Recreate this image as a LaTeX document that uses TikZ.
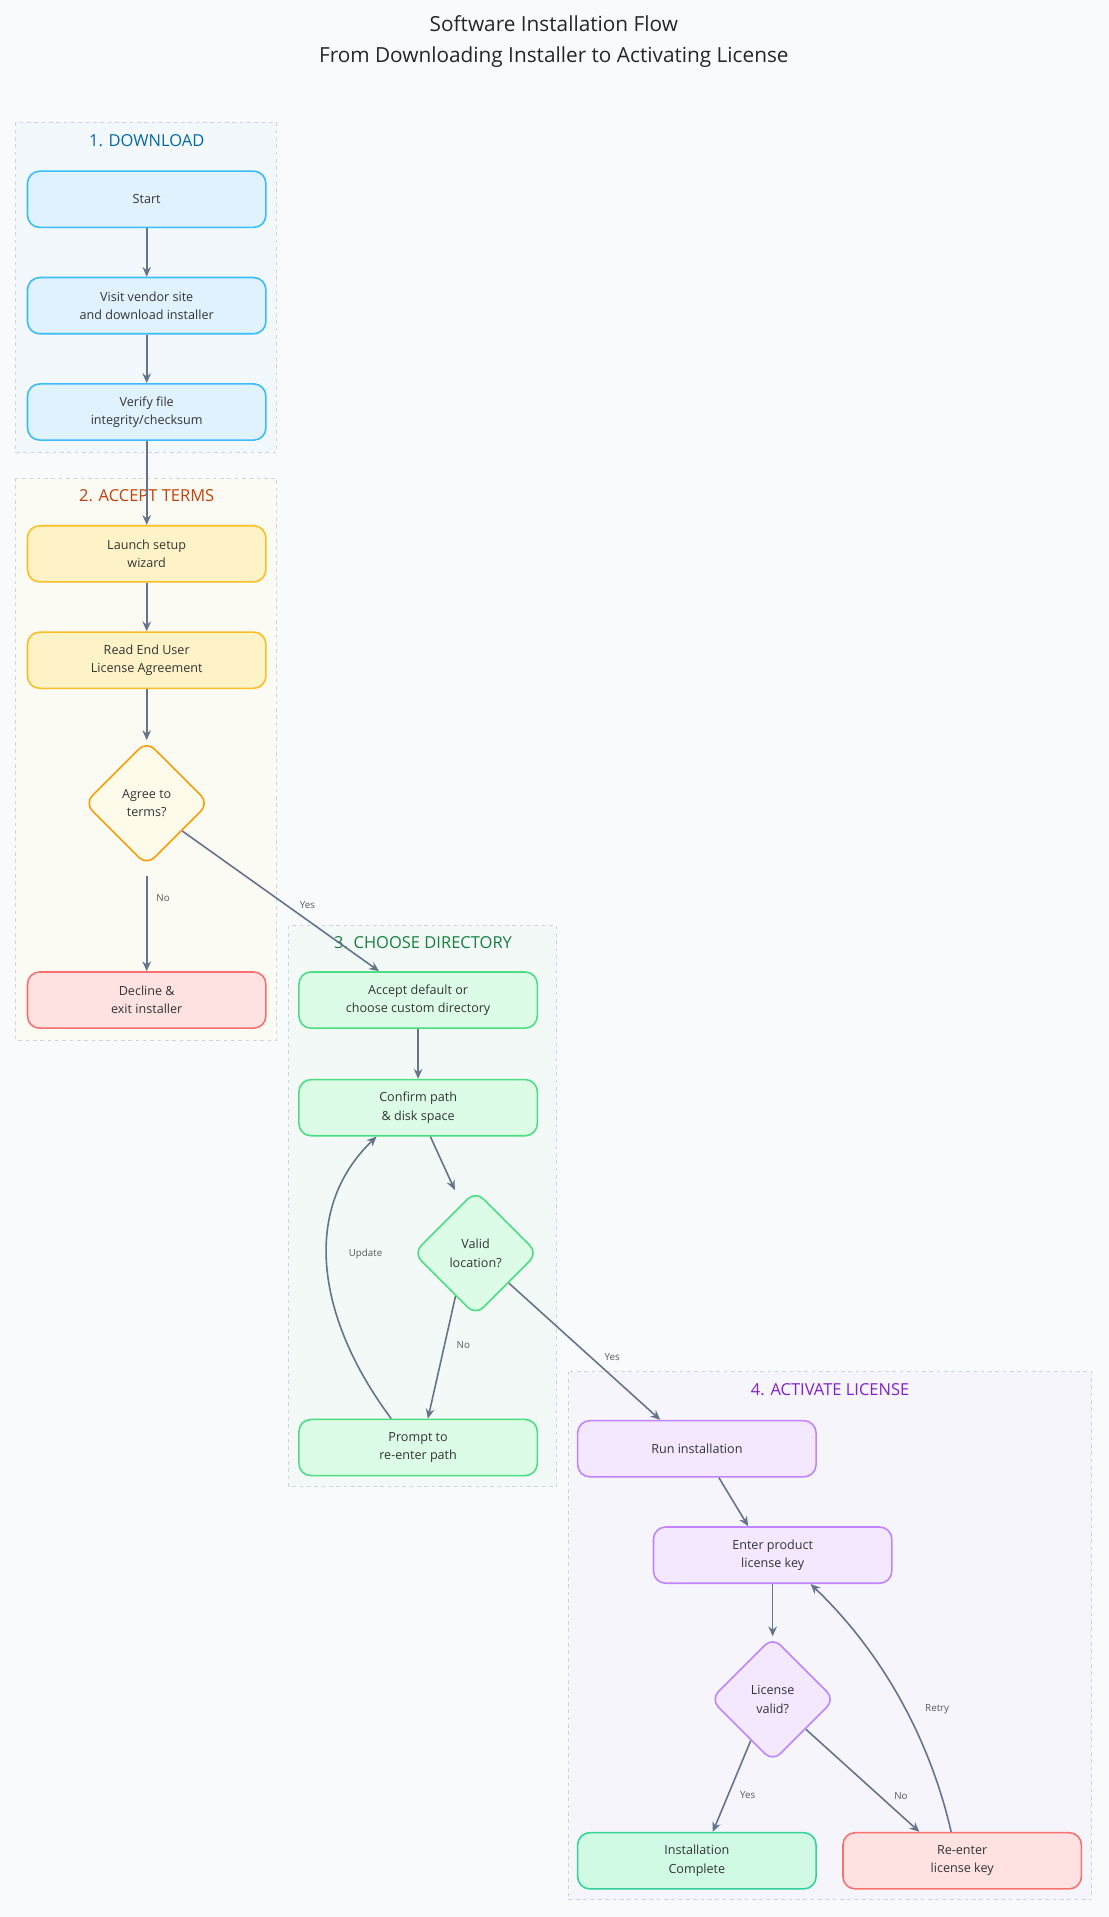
\documentclass[tikz,border=0pt]{standalone}
\usepackage{fontspec}
\setmainfont{Open Sans}
\usetikzlibrary{shapes.geometric,arrows.meta}
\definecolor{bg}{HTML}{F8FAFC}
\definecolor{edge}{HTML}{64748B}
\definecolor{clb}{HTML}{CBD5E1}
\definecolor{bF}{HTML}{E0F2FE}\definecolor{bD}{HTML}{38BDF8}
\definecolor{yF}{HTML}{FEF3C7}\definecolor{yD}{HTML}{FBBF24}
\definecolor{ydF}{HTML}{FFFBEB}\definecolor{ydD}{HTML}{F59E0B}
\definecolor{rF}{HTML}{FEE2E2}\definecolor{rD}{HTML}{F87171}
\definecolor{gF}{HTML}{DCFCE7}\definecolor{gD}{HTML}{4ADE80}
\definecolor{pF}{HTML}{F3E8FF}\definecolor{pD}{HTML}{C084FC}
\definecolor{cF}{HTML}{D1FAE5}\definecolor{cD}{HTML}{34D399}
\definecolor{c1}{HTML}{F3F8FC}\definecolor{t1c}{HTML}{0369A1}
\definecolor{c2}{HTML}{FBFAF3}\definecolor{t2c}{HTML}{C2410C}
\definecolor{c3}{HTML}{F2F9F7}\definecolor{t3c}{HTML}{15803D}
\definecolor{c4}{HTML}{F6F5FC}\definecolor{t4c}{HTML}{7E22CE}
\tikzset{
  x=1pt,y=-1pt,
  box/.style={draw,line width=1.3pt,rounded corners=10pt,minimum width=195pt,minimum height=46pt,align=center,font=\fontsize{10.3}{15}\selectfont,text=black!80},
  dia/.style={draw,line width=1.3pt,diamond,aspect=1,minimum width=102pt,minimum height=102pt,inner sep=0pt,rounded corners=9pt,align=center,font=\fontsize{10.3}{15}\selectfont,text=black!80},
  blue/.style={fill=bF,draw=bD},
  yel/.style={fill=yF,draw=yD},
  ydia/.style={fill=ydF,draw=ydD},
  red/.style={fill=rF,draw=rD},
  grn/.style={fill=gF,draw=gD},
  pur/.style={fill=pF,draw=pD},
  cmp/.style={fill=cF,draw=cD},
  cl/.style={draw=clb,dashed,line width=0.8pt},
  ctitle/.style={font=\fontsize{13.5}{15}\selectfont},
  arr/.style={draw=edge,line width=1.3pt,-{Stealth[length=8pt,width=7pt]}},
  lab/.style={font=\fontsize{8}{10}\selectfont,text=black!65}
}
\begin{document}
\begin{tikzpicture}
\useasboundingbox[fill=bg] (0,0) rectangle (907,1568);
\node[font=\fontsize{17}{26}\selectfont,align=center,text=black!85] (title) at (453,34) {Software Installation Flow\\From Downloading Installer to Activating License};
% clusters
\draw[cl,fill=c1] (13,100) rectangle (226,370);
\node[ctitle,text=t1c] (t1) at (120,115) {1. DOWNLOAD};
\draw[cl,fill=c2] (13,391) rectangle (226,851);
\node[ctitle,text=t2c] (t2) at (120,405) {2. ACCEPT TERMS};
\draw[cl,fill=c3] (236,757) rectangle (455,1216);
\node[ctitle,text=t3c] (t3) at (346,771) {3. CHOOSE DIRECTORY};
\draw[cl,fill=c4] (465,1122) rectangle (893,1554);
\node[ctitle,text=t4c] (t4) at (679,1137) {4. ACTIVATE LICENSE};
% nodes
\node[box,blue] (start) at (120,163) {Start};
\node[box,blue] (visit) at (120,250) {Visit vendor site\\and download installer};
\node[box,blue] (verify) at (120,337) {Verify file\\integrity/checksum};
\node[box,yel] (launch) at (120,453) {Launch setup\\wizard};
\node[box,yel] (read) at (120,540) {Read End User\\License Agreement};
\node[dia,ydia] (agree) at (120,657) {Agree to\\terms?};
\node[box,red] (decline) at (120,818) {Decline \&\\exit installer};
\node[box,grn] (accept) at (342,818) {Accept default or\\choose custom directory};
\node[box,grn] (confirm) at (342,906) {Confirm path\\\& disk space};
\node[dia,grn] (valid) at (389,1025) {Valid\\location?};
\node[box,grn] (prompt) at (342,1184) {Prompt to\\re-enter path};
\node[box,pur] (run) at (570,1185) {Run installation};
\node[box,pur] (enter) at (632,1272) {Enter product\\license key};
\node[dia,pur] (lic) at (632,1390) {License\\valid?};
\node[box,cmp] (inst) at (570,1522) {Installation\\Complete};
\node[box,red] (reent) at (787,1522) {Re-enter\\license key};
% edges
\draw[arr] (start) -- (visit);
\draw[arr] (visit) -- (verify);
\draw[arr] (verify) -- (launch);
\draw[arr] (launch) -- (read);
\draw[arr] (read) -- (agree);
\draw[arr,shorten <=8pt] (agree) -- node[lab,right=4pt,pos=0.3]{No} (decline);
\draw[arr] (agree.-38) -- node[lab,pos=0.58,above right=-1pt]{Yes} (accept.north west -| 310,0);
\draw[arr] (accept) -- (confirm);
\draw[arr] (confirm.south -| 352,0) -- (valid.north -| 372,0);
\draw[arr] (valid.-115) -- node[lab,right=6pt,pos=0.4]{No} (prompt.north -| 350,0);
\draw[arr] (prompt.north -| 320,0) .. controls (260,1080) and (245,990) .. node[lab,pos=0.55,right=14pt]{Update} (confirm.south -| 308,0);
\draw[arr] (valid.-42) -- node[lab,pos=0.6,above right=0pt]{Yes} (run.north -| 540,0);
\draw[arr] (run.south -| 588,0) -- (enter.north -| 612,0);
\draw[arr] (enter) -- (lic);
\draw[arr] (lic.-118) -- node[lab,pos=0.6,right=6pt]{Yes} (inst.north -| 583,0);
\draw[arr] (lic.-42) -- node[lab,pos=0.65,right=8pt]{No} (reent.north -| 752,0);
\draw[arr] (reent.north -| 778,0) .. controls (760,1420) and (720,1350) .. node[lab,pos=0.45,right=12pt]{Retry} (enter.south -| 663,0);
\end{tikzpicture}
\end{document}
